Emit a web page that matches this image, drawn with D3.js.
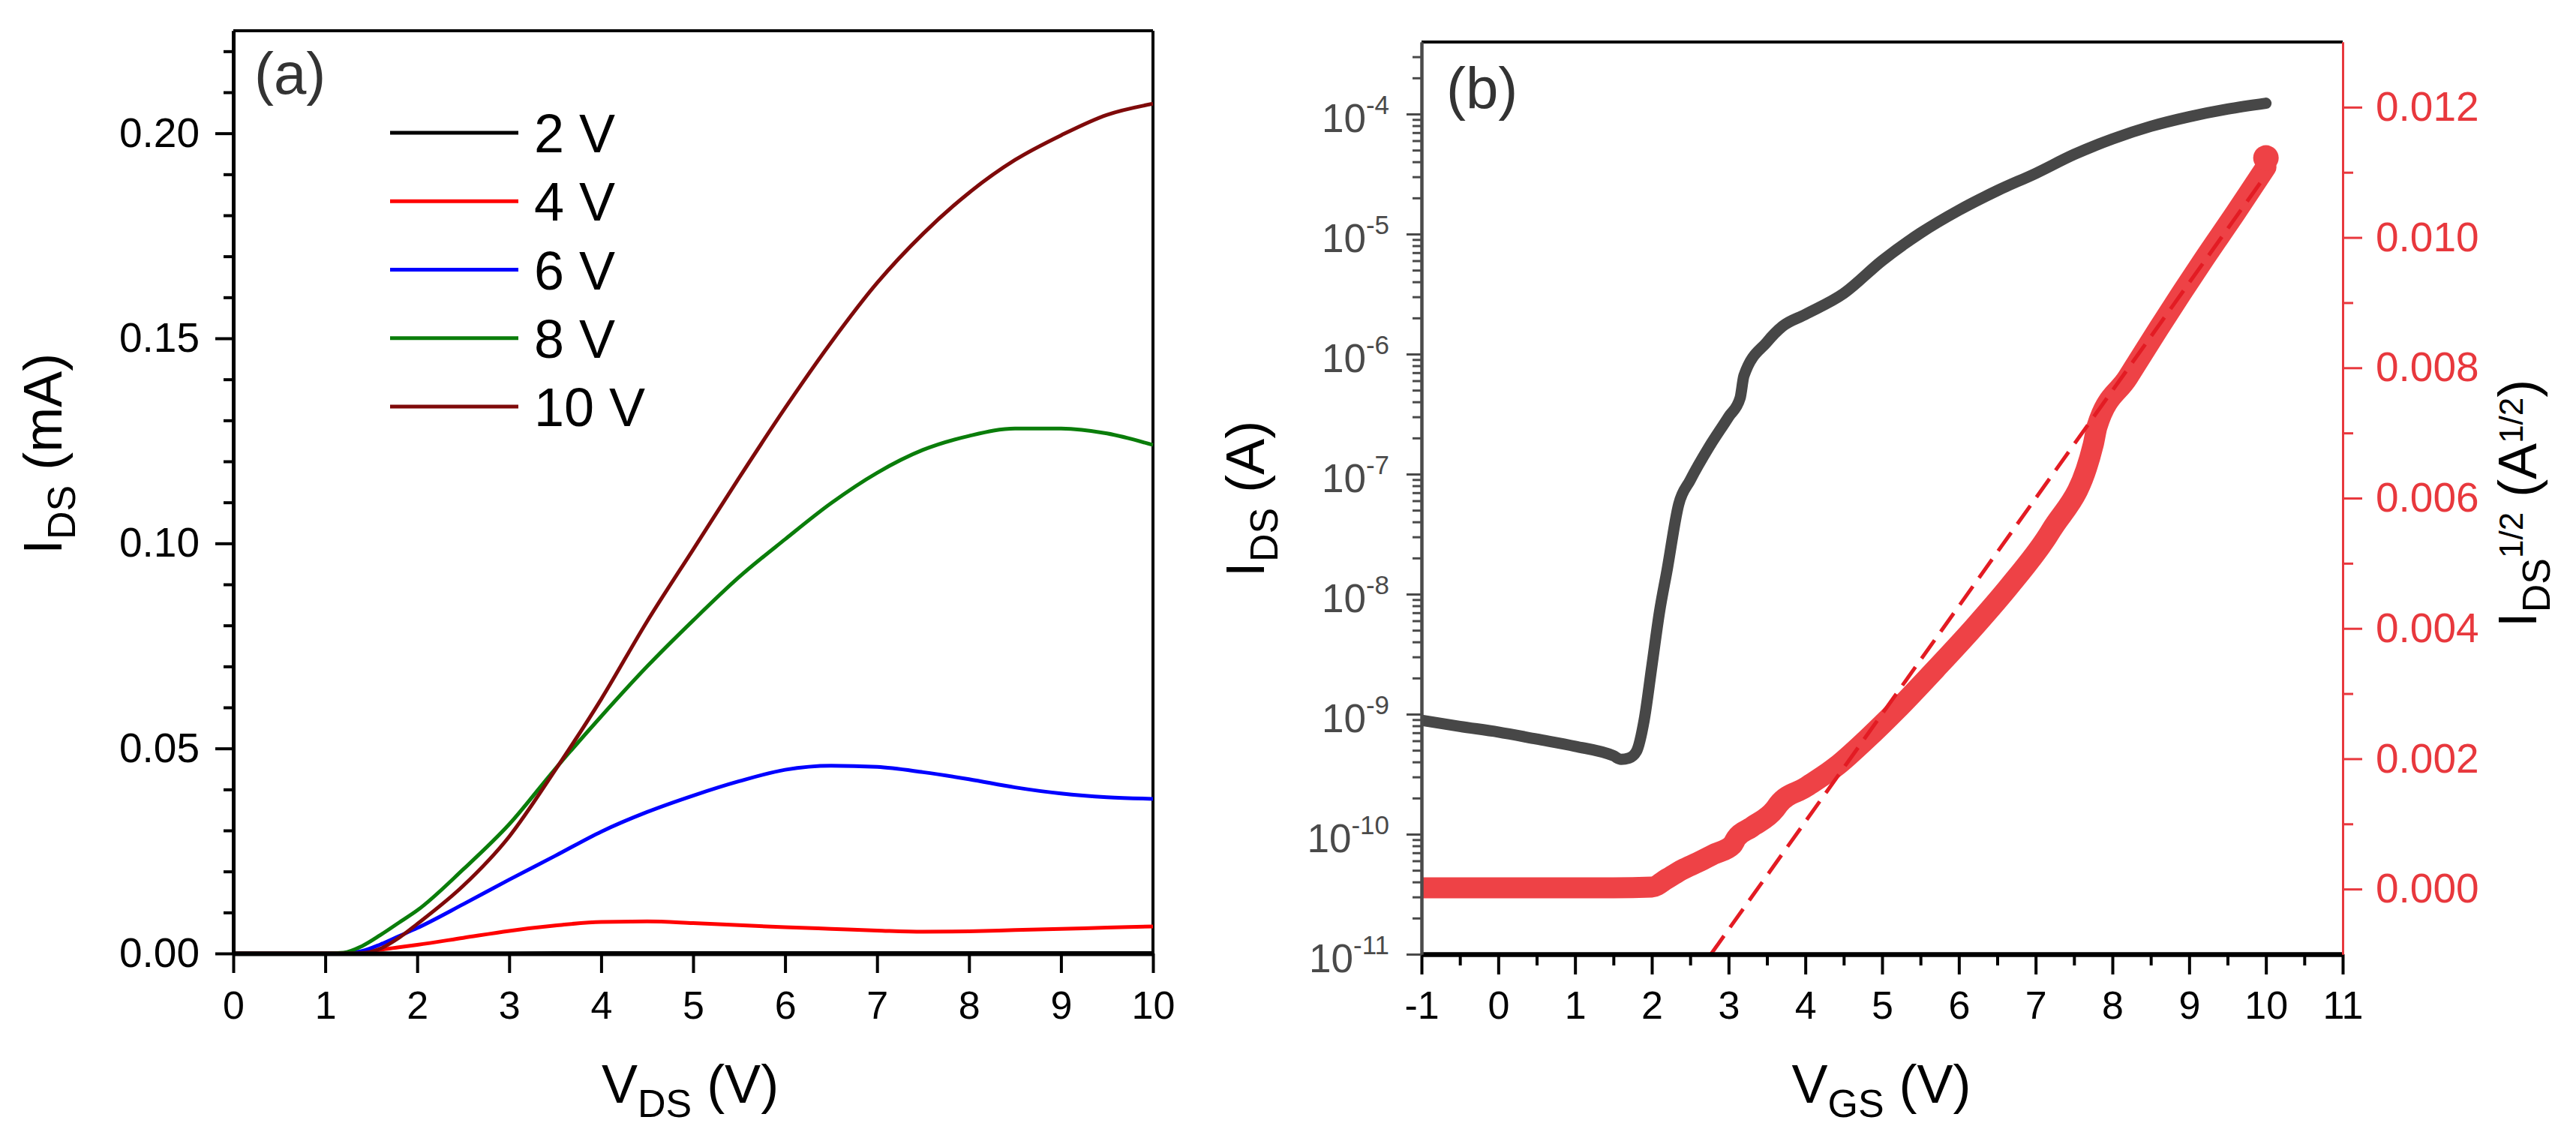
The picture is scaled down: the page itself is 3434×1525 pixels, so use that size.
<!DOCTYPE html>
<html><head><meta charset="utf-8">
<script src="https://cdn.jsdelivr.net/npm/d3@7"></script>
<style>
body{margin:0;background:#fff}
svg{display:block;background:#fff}
text{font-family:"Liberation Sans",Arial,Helvetica,sans-serif}
</style>
</head><body>
<svg id="chart" width="3434" height="1525"></svg>
<script>
// ---------------- DATA : panel (a) output characteristics ----------------
const vdsA   = [0,0.5,1.0,1.2,1.4,1.6,1.8,2.0,2.5,3.0,3.5,4.0,4.5,5.0,5.5,6.0,6.5,7.0,7.5,8.0,8.5,9.0,9.5,10.0];
const ids2V  = [0,0,0,0,0,0,0,0,0,0,0.0001,0.0001,0.0001,0.0001,0.0001,0.0001,0.0001,0.0001,0.0001,0.0001,0.0001,0.0001,0.0001,0.0001];
const ids4V  = [0,0,0,0,0.0002,0.0009,0.0015,0.0021,0.0038,0.0055,0.0068,0.0077,0.0078,0.0074,0.0069,0.0064,0.0060,0.0056,0.0053,0.0054,0.0057,0.0060,0.0063,0.0066];
const ids6V  = [0,0,0,0.0001,0.0006,0.0022,0.0042,0.0062,0.0120,0.0180,0.0238,0.0297,0.0345,0.0385,0.0420,0.0448,0.0458,0.0455,0.0442,0.0425,0.0405,0.0390,0.0381,0.0377];
const ids8V  = [0,0,0,0.0002,0.0018,0.0045,0.0075,0.0105,0.0205,0.0315,0.0450,0.0578,0.0700,0.0812,0.0918,0.1010,0.1098,0.1172,0.1228,0.1262,0.1280,0.1280,0.1268,0.1240];
const ids10V = [0,0,0,0,0.0001,0.0012,0.0038,0.0072,0.0165,0.0285,0.0447,0.0620,0.0810,0.0985,0.1160,0.1330,0.1490,0.1635,0.1755,0.1855,0.1935,0.1995,0.2045,0.2072];
const legendLabelsA = ["2 V","4 V","6 V","8 V","10 V"];
const xTicksA  = [0,1,2,3,4,5,6,7,8,9,10];
const yTicksA  = [0.00,0.05,0.10,0.15,0.20];
const yMinorA  = [0.01,0.02,0.03,0.04,0.06,0.07,0.08,0.09,0.11,0.12,0.13,0.14,0.16,0.17,0.18,0.19,0.21,0.22];

// ---------------- DATA : panel (b) transfer characteristics ----------------
const vgsLog = [-1.0,-0.5,0.0,0.5,1.0,1.5,1.6,1.7,1.8,1.9,2.0,2.1,2.2,2.35,2.5,2.75,3.0,3.15,3.2,3.5,3.7,4.0,4.5,5.0,5.5,6.0,6.5,7.0,7.5,8.0,8.5,9.0,9.5,10.0];
const idsLog = [8.9e-10,7.9e-10,7.1e-10,6.2e-10,5.4e-10,4.5e-10,4.2e-10,4.3e-10,4.9e-10,8.9e-10,2.5e-9,7.1e-9,1.6e-8,5.6e-8,8.9e-8,1.7e-7,3.0e-7,4.3e-7,6.6e-7,1.26e-6,1.7e-6,2.14e-6,3.2e-6,6.0e-6,1.02e-5,1.58e-5,2.3e-5,3.2e-5,4.6e-5,6.2e-5,7.9e-5,9.5e-5,1.1e-4,1.23e-4];
const vgsSqrt = [-1.0,0.0,1.0,1.5,2.0,2.2,2.4,2.6,2.8,3.05,3.1,3.3,3.6,3.65,4.0,4.4,4.8,5.2,5.7,6.2,6.7,7.2,7.75,7.8,8.2,8.6,9.2,9.6,10.0];
const sqrtIds = [0.00002,0.00002,0.00002,0.00002,0.00003,0.00016,0.00030,0.00041,0.00053,0.00068,0.00078,0.00095,0.00122,0.00130,0.00156,0.00188,0.00230,0.00276,0.00338,0.00402,0.00471,0.00550,0.00682,0.00710,0.00785,0.00860,0.00968,0.01037,0.01108];
const sqrtEnd = 0.01122;
const fitV = [2.77, 10.0];
const fitS = [-0.001, 0.01096];
const xTicksB = [-1,0,1,2,3,4,5,6,7,8,9,10,11];
const xMinorB = [-0.5,0.5,1.5,2.5,3.5,4.5,5.5,6.5,7.5,8.5,9.5,10.5];
const yTicksBlog = [1e-11,1e-10,1e-9,1e-8,1e-7,1e-6,1e-5,1e-4];
const yExpBlog   = ["-11","-10","-9","-8","-7","-6","-5","-4"];
const yMinorMult = [2,3,4,5,6,7,8,9];
const yTicksBr = [0.000,0.002,0.004,0.006,0.008,0.010,0.012];
const yMinorBr = [0.001,0.003,0.005,0.007,0.009,0.011];

// ---------------- STYLE ----------------
const colorsA = ["#000000","#ff0000","#0000ff","#0a7d0a","#7f0a0a"];
const grayC = "#474747";
const redC  = "#ee4246";
const redAxis = "#e8383d";

const svg = d3.select("#chart");

function richText(parent, segs, anchor){
  const t = parent.append("text").attr("text-anchor", anchor);
  let prev = 0;
  segs.forEach(s=>{
    const sh = s.sh || 0;
    t.append("tspan").attr("font-size", s.fs).attr("dy", sh - prev).text(s.t);
    prev = sh;
  });
  return t;
}
function styleAxis(g, color, domW, tickW){
  g.select(".domain").attr("stroke", color).attr("stroke-width", domW);
  g.selectAll(".tick line").attr("stroke", color).attr("stroke-width", tickW);
  g.selectAll(".tick text").attr("fill", color);
}
const plainNum = d => String(d);

// =================== PANEL (a) ===================
const xA = d3.scaleLinear([0,10],[311,1537]);
const yA = d3.scaleLinear([0,0.225],[1271,41]);
const gA = svg.append("g");

gA.append("line").attr("x1",xA(0)).attr("x2",xA(10)).attr("y1",yA(0.225)).attr("y2",yA(0.225)).attr("stroke","#000").attr("stroke-width",4);
gA.append("line").attr("x1",xA(10)).attr("x2",xA(10)).attr("y1",yA(0.225)).attr("y2",yA(0)).attr("stroke","#000").attr("stroke-width",4);

const seriesA = [ids2V, ids4V, ids6V, ids8V, ids10V];
const lineA = d3.line().x(d=>xA(d[0])).y(d=>yA(d[1])).curve(d3.curveMonotoneX);
seriesA.forEach((s,i)=>{
  gA.append("path").datum(vdsA.map((v,j)=>[v,s[j]]))
    .attr("d", lineA).attr("fill","none").attr("stroke",colorsA[i]).attr("stroke-width",5)
    .attr("stroke-linejoin","round");
});

const axXA = gA.append("g").attr("transform",`translate(0,${yA(0)})`)
  .call(d3.axisBottom(xA).tickValues(xTicksA).tickSize(26).tickPadding(24).tickSizeOuter(0).tickFormat(plainNum));
axXA.selectAll(".tick text").attr("font-size",52).attr("font-family",'"Liberation Sans",Arial,sans-serif');
styleAxis(axXA,"#000",6,4);

const axYA = gA.append("g").attr("transform",`translate(${xA(0)},0)`)
  .call(d3.axisLeft(yA).tickValues(yTicksA).tickSize(24).tickPadding(21).tickSizeOuter(0).tickFormat(d3.format(".2f")));
axYA.selectAll(".tick text").attr("font-size",55).attr("font-family",'"Liberation Sans",Arial,sans-serif');
styleAxis(axYA,"#000",5,4);
const axYAm = gA.append("g").attr("transform",`translate(${xA(0)},0)`)
  .call(d3.axisLeft(yA).tickValues(yMinorA).tickSize(13).tickSizeOuter(0).tickFormat(""));
styleAxis(axYAm,"#000",5,4);

const legA = gA.append("g");
legendLabelsA.forEach((lab,i)=>{
  const y = 177 + i*91.25;
  legA.append("line").attr("x1",520).attr("x2",691).attr("y1",y).attr("y2",y).attr("stroke",colorsA[i]).attr("stroke-width",5);
  legA.append("text").attr("x",712).attr("y",y+26).attr("font-size",72).attr("fill","#000").text(lab);
});

gA.append("text").attr("x",339).attr("y",125).attr("font-size",78).attr("fill","#333").text("(a)");
richText(gA.append("g").attr("transform","translate(920,1470)"),
  [{t:"V",fs:72},{t:"DS",fs:52,sh:19},{t:"\u00a0(V)",fs:72,sh:0}],"middle");
richText(gA.append("g").attr("transform","translate(82,605) rotate(-90)"),
  [{t:"I",fs:72},{t:"DS",fs:52,sh:18},{t:"\u00a0(mA)",fs:72,sh:0}],"middle");

// =================== PANEL (b) ===================
const xB = d3.scaleLinear([-1,11],[1895,3123]);
const yBl = d3.scaleLog([1e-11, Math.pow(10,-3.4)],[1272,56]);
const yBr = d3.scaleLinear([-0.001,0.013],[1272,56]);
const gB = svg.append("g");

svg.append("defs").append("clipPath").attr("id","clipB").append("rect")
  .attr("x",xB(-1)).attr("y",yBr(0.013)).attr("width",xB(11)-xB(-1)).attr("height",yBr(-0.001)-yBr(0.013));

gB.append("line").attr("x1",xB(-1)).attr("x2",xB(11)).attr("y1",yBr(0.013)).attr("y2",yBr(0.013)).attr("stroke","#000").attr("stroke-width",4);

const plotB = gB.append("g").attr("clip-path","url(#clipB)");
plotB.append("path").datum(vgsLog.map((v,j)=>[v,idsLog[j]]))
  .attr("d", d3.line().x(d=>xB(d[0])).y(d=>yBl(d[1])).curve(d3.curveMonotoneX))
  .attr("fill","none").attr("stroke",grayC).attr("stroke-width",15)
  .attr("stroke-linecap","round").attr("stroke-linejoin","round");
plotB.append("path").datum(vgsSqrt.map((v,j)=>[v,sqrtIds[j]]))
  .attr("d", d3.line().x(d=>xB(d[0])).y(d=>yBr(d[1])).curve(d3.curveMonotoneX))
  .attr("fill","none").attr("stroke",redC).attr("stroke-width",28)
  .attr("stroke-linecap","round").attr("stroke-linejoin","round");
plotB.append("circle").attr("cx",xB(vgsSqrt[vgsSqrt.length-1])).attr("cy",yBr(sqrtEnd)).attr("r",17).attr("fill",redC);
plotB.append("path").datum(fitV.map((v,j)=>[v,fitS[j]]))
  .attr("d", d3.line().x(d=>xB(d[0])).y(d=>yBr(d[1])))
  .attr("fill","none").attr("stroke","#e31b23").attr("stroke-width",5).attr("stroke-dasharray","30 14");

const axXB = gB.append("g").attr("transform",`translate(0,${yBr(-0.001)})`)
  .call(d3.axisBottom(xB).tickValues(xTicksB).tickSize(27).tickPadding(22).tickSizeOuter(0).tickFormat(plainNum));
axXB.selectAll(".tick text").attr("font-size",52).attr("font-family",'"Liberation Sans",Arial,sans-serif');
styleAxis(axXB,"#000",6,4);
const axXBm = gB.append("g").attr("transform",`translate(0,${yBr(-0.001)})`)
  .call(d3.axisBottom(xB).tickValues(xMinorB).tickSize(15).tickSizeOuter(0).tickFormat(""));
styleAxis(axXBm,"#000",6,4);

const minorLog = [];
yTicksBlog.forEach(d=>yMinorMult.forEach(m=>{ const v=d*m; if(v < Math.pow(10,-3.4)) minorLog.push(v); }));
const axYBm = gB.append("g").attr("transform",`translate(${xB(-1)},0)`)
  .call(d3.axisLeft(yBl).tickValues(minorLog).tickSize(12).tickSizeOuter(0).tickFormat(""));
styleAxis(axYBm,"#4a4a4a",4,3);
const axYB = gB.append("g").attr("transform",`translate(${xB(-1)},0)`)
  .call(d3.axisLeft(yBl).tickValues(yTicksBlog).tickSize(20).tickSizeOuter(0).tickFormat(""));
styleAxis(axYB,"#4a4a4a",4,3);
yTicksBlog.forEach((v,i)=>{
  const t = richText(gB.append("g").attr("transform",`translate(${xB(-1)-43},${yBl(v)+24})`),
    [{t:"10",fs:53},{t:yExpBlog[i],fs:35,sh:-24}],"end");
  t.attr("fill","#4a4a4a");
});

const axYBr = gB.append("g").attr("transform",`translate(${xB(11)},0)`)
  .call(d3.axisRight(yBr).tickValues(yTicksBr).tickSize(26).tickPadding(18).tickSizeOuter(0).tickFormat(d3.format(".3f")));
axYBr.selectAll(".tick text").attr("font-size",55).attr("font-family",'"Liberation Sans",Arial,sans-serif');
styleAxis(axYBr,redAxis,3,3);
const axYBrm = gB.append("g").attr("transform",`translate(${xB(11)},0)`)
  .call(d3.axisRight(yBr).tickValues(yMinorBr).tickSize(14).tickSizeOuter(0).tickFormat(""));
styleAxis(axYBrm,redAxis,3,3);

gB.append("text").attr("x",1928).attr("y",145).attr("font-size",78).attr("fill","#333").text("(b)");
richText(gB.append("g").attr("transform","translate(2508,1470)"),
  [{t:"V",fs:72},{t:"GS",fs:52,sh:19},{t:"\u00a0(V)",fs:72,sh:0}],"middle");
richText(gB.append("g").attr("transform","translate(1685,665) rotate(-90)"),
  [{t:"I",fs:72},{t:"DS",fs:52,sh:18},{t:"\u00a0(A)",fs:72,sh:0}],"middle");
richText(gB.append("g").attr("transform","translate(3381,671) rotate(-90)"),
  [{t:"I",fs:72},{t:"DS",fs:52,sh:18},{t:"1/2",fs:44,sh:-18},{t:"\u00a0(A",fs:72,sh:0},{t:"1/2",fs:44,sh:-18},{t:")",fs:72,sh:0}],"middle");
</script>
</body></html>
